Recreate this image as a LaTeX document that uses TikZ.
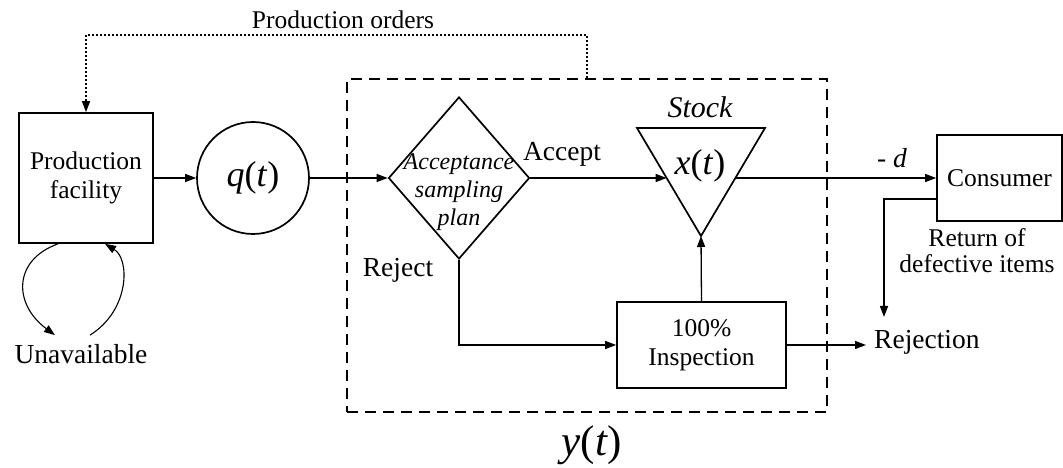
\documentclass[tikz,border=0pt]{standalone}
\usepackage{fontspec}
\setmainfont{Liberation Serif}
\usetikzlibrary{arrows.meta,calc,shapes.geometric}
\begin{document}
\begin{tikzpicture}[x=1bp,y=-1bp,
  box/.style={draw,line width=1.7bp,inner sep=0pt,align=center,
    font=\fontsize{25.5bp}{29bp}\selectfont},
  lbl/.style={inner sep=0pt,align=center,font=\fontsize{27.5bp}{26bp}\selectfont},
  small/.style={inner sep=0pt,align=center,font=\fontsize{25.5bp}{26bp}\selectfont},
  flow/.style={line width=1.3bp,-{Triangle[length=11bp,width=8bp]}},
  loop/.style={line width=1.1bp,-{Triangle[length=11bp,width=8bp]}},
  order/.style={line width=1.5bp,dash pattern=on 2bp off 2bp,-{Triangle[length=11bp,width=8bp]}},
  group/.style={draw,line width=1.7bp,dash pattern=on 11bp off 7bp,inner sep=0pt},
  outline/.style={line width=1.7bp,line join=miter}
]
\useasboundingbox (0,0) rectangle (1063,468);

% main blocks
\node[box,minimum width=134bp,minimum height=130bp] (pf) at (86,178) {Production\\facility};
\node[draw,circle,line width=1.7bp,inner sep=0pt,minimum size=112bp,
  font=\fontsize{36bp}{36bp}\selectfont] (q) at (253,178) {\textit{q}(\textit{t})};
\node[group,minimum width=480bp,minimum height=333bp] (ybox) at (587,245.5) {};
\node[draw,diamond,line width=1.7bp,inner sep=0pt,minimum width=141bp,minimum height=162bp] (asp) at (459,178) {};
\node[inner sep=0pt,align=center,font=\itshape\fontsize{24bp}{28bp}\selectfont] (asptext) at (459,192)
  {Acceptance\\sampling\\plan};
\node[box,minimum width=169bp,minimum height=86bp] (insp) at (701.5,345) {100\%\\Inspection};
\node[box,minimum width=125bp,minimum height=86bp] (cons) at (999.5,178) {Consumer};

% stock triangle
\coordinate (stock-l) at (637,128);
\coordinate (stock-r) at (765,128);
\coordinate (stock-b) at (701,236);
\draw[outline] (stock-l) -- (stock-r) -- (stock-b) -- cycle;
\coordinate (stock-in) at ($(stock-l)!0.463!(stock-b)$);
\coordinate (stock-out) at ($(stock-r)!0.463!(stock-b)$);
\node[inner sep=0pt,font=\fontsize{36bp}{36bp}\selectfont] (xt) at (700,166) {\textit{x}(\textit{t})};
\node[inner sep=0pt,font=\itshape\fontsize{30bp}{30bp}\selectfont] (stock) at (700,107) {Stock};

% labels
\node[small] (orders) at (343,20) {Production orders};
\node[lbl] (accept) at (562,154) {Accept};
\node[lbl] (reject) at (398,270) {Reject};
\node[lbl] (unav) at (81,354) {Unavailable};
\node[lbl] (demand) at (892,158) {- \textit{d}};
\node[small] (ret) at (977,251) {Return of\\defective items};
\node[lbl,anchor=west] (rej) at (874,342) {Rejection};
\node[inner sep=0pt,font=\fontsize{43bp}{43bp}\selectfont] (yt) at (592,445) {\textit{y}(\textit{t})};

% flows
\draw[flow] (pf.east) -- (q.west);
\draw[flow] (q.east) -- (asp.west);
\draw[flow] (asp.east) -- (asp.east -| stock-in);
\draw[flow] (stock-out) -- (stock-out -| cons.west);
\draw[flow] (asp.south) |- (insp.west);
\draw[flow] (insp.north) -- (stock-b);
\coordinate (rej-in) at ($(insp.east -| rej.west)+(-8,0)$);
\draw[flow] (insp.east) -- (rej-in);
\coordinate (ret-end) at (884,317);
\draw[flow] ($(cons.west)+(0,21)$) -| (ret-end);

% production orders feedback
\draw[order] (ybox.north) -- ++(0,-43) -| (pf.north);

% availability loop
\coordinate (down-start) at ($(pf.south)+(-28,0)$);
\coordinate (down-end) at ($(unav.north)+(-26,-9)$);
\coordinate (up-start) at ($(unav.north)+(9,-9)$);
\coordinate (up-end) at ($(pf.south)+(19,0)$);
\draw[loop] (down-start) .. controls (13,260) and (13,304) .. (down-end);
\draw[loop] (up-start) .. controls (130,310) and (130,259) .. (up-end);
\end{tikzpicture}
\end{document}
